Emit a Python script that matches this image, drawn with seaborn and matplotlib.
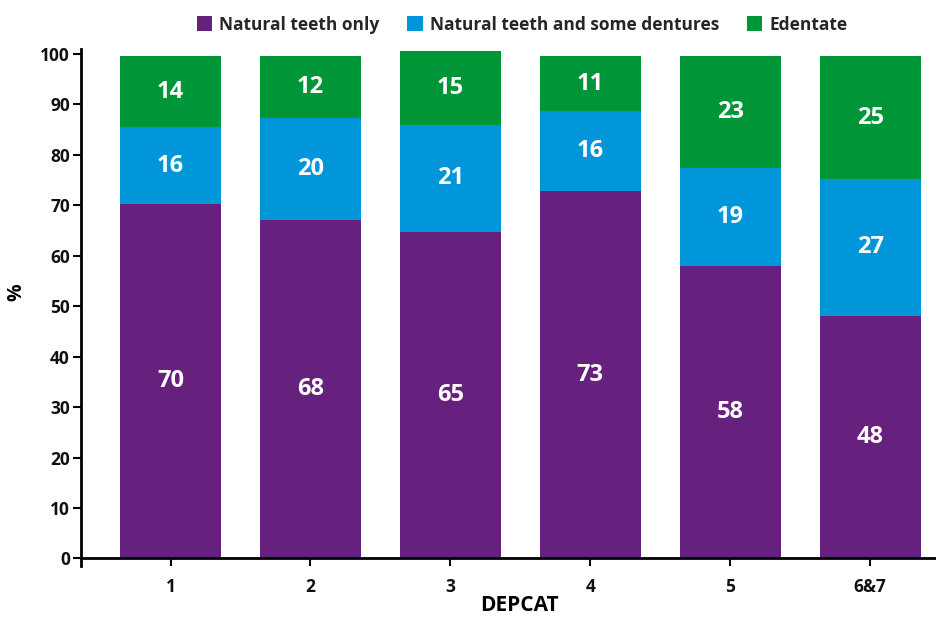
"""Stacked bar chart of dental status by DEPCAT."""

import matplotlib
matplotlib.use("Agg")
import matplotlib.pyplot as plt
import seaborn as sns
import numpy as np
import pandas as pd

# data
categories = ["1", "2", "3", "4", "5", "6&7"]
series_names = ["Natural teeth only", "Natural teeth and some dentures", "Edentate"]

# bar segment heights (as drawn)
natural_only = [70.2, 67.0, 64.8, 72.8, 57.9, 48.1]
some_dentures = [15.3, 20.3, 21.1, 15.9, 19.6, 27.1]
edentate = [14.1, 12.3, 14.7, 10.9, 22.1, 24.4]

# printed labels
natural_only_lbl = [70, 68, 65, 73, 58, 48]
some_dentures_lbl = [16, 20, 21, 16, 19, 27]
edentate_lbl = [14, 12, 15, 11, 23, 25]

colors = ["#66217f", "#0096d9", "#009537"]

sns.set_theme(style="white")
plt.rcParams["font.family"] = ["Open Sans", "DejaVu Sans"]
plt.rcParams["font.weight"] = "bold"

df = pd.DataFrame({
    "depcat": categories,
    "natural": natural_only,
    "dentures": some_dentures,
    "edentate": edentate,
})
df["cum1"] = df["natural"]
df["cum2"] = df["cum1"] + df["dentures"]
df["cum3"] = df["cum2"] + df["edentate"]

fig = plt.figure(figsize=(9.36, 6.17), dpi=100)
ax = fig.add_axes([81 / 936, 1 - 565.5 / 617, (936 - 81) / 936, (565.5 - 49) / 617])

# draw tallest stack first so lower layers sit on top
for col, color, name in zip(["cum3", "cum2", "cum1"], colors[::-1], series_names[::-1]):
    sns.barplot(data=df, x="depcat", y=col, color=color, saturation=1,
                width=0.72, ax=ax, label=name, order=categories,
                linewidth=0, edgecolor="none")

# segment labels
seg_vals = [natural_only, some_dentures, edentate]
seg_lbls = [natural_only_lbl, some_dentures_lbl, edentate_lbl]
bottoms = np.zeros(len(categories))
for vals, lbls in zip(seg_vals, seg_lbls):
    vals = np.array(vals)
    for i, (v, l) in enumerate(zip(vals, lbls)):
        ax.text(i, bottoms[i] + v / 2, str(l), ha="center", va="center",
                color="white", fontsize=17, fontweight="bold")
    bottoms += vals

ax.set_xlim(-0.64, 5.47)
ax.set_ylim(-1.4, 101)
ax.set_yticks(range(0, 101, 10))
ax.spines["top"].set_visible(False)
ax.spines["right"].set_visible(False)
ax.spines["bottom"].set_position(("data", 0))
ax.spines["left"].set_linewidth(2)
ax.spines["bottom"].set_linewidth(2)
ax.spines["left"].set_color("black")
ax.spines["bottom"].set_color("black")
ax.tick_params(axis="y", direction="out", length=6, width=1.5, pad=2,
               labelsize=12.5, left=True, colors="black")
ax.tick_params(axis="x", direction="out", length=6, width=1.5, pad=8,
               labelsize=12.5, bottom=True, colors="black")
for lab in ax.get_xticklabels() + ax.get_yticklabels():
    lab.set_fontweight("bold")
    lab.set_color("#111111")

ax.set_xlabel("DEPCAT", fontsize=15, fontweight="bold", color="black")
ax.xaxis.set_label_coords((519 - 81) / (936 - 81), -0.058)
ax.set_ylabel("%", fontsize=14, fontweight="bold", color="black")
ax.yaxis.set_label_coords(-0.064, 0.53)

# legend in original series order
handles, labels = ax.get_legend_handles_labels()
order = [labels.index(n) for n in series_names]
ax.legend([handles[i] for i in order], [labels[i] for i in order],
          loc="upper center", bbox_to_anchor=((522 - 81) / 855, 1.095), ncol=3,
          frameon=False, handlelength=0.9, handleheight=0.9,
          handletextpad=0.4, columnspacing=1.6,
          prop={"weight": "bold", "size": 12.5})

fig.savefig("out.png", dpi=100)
